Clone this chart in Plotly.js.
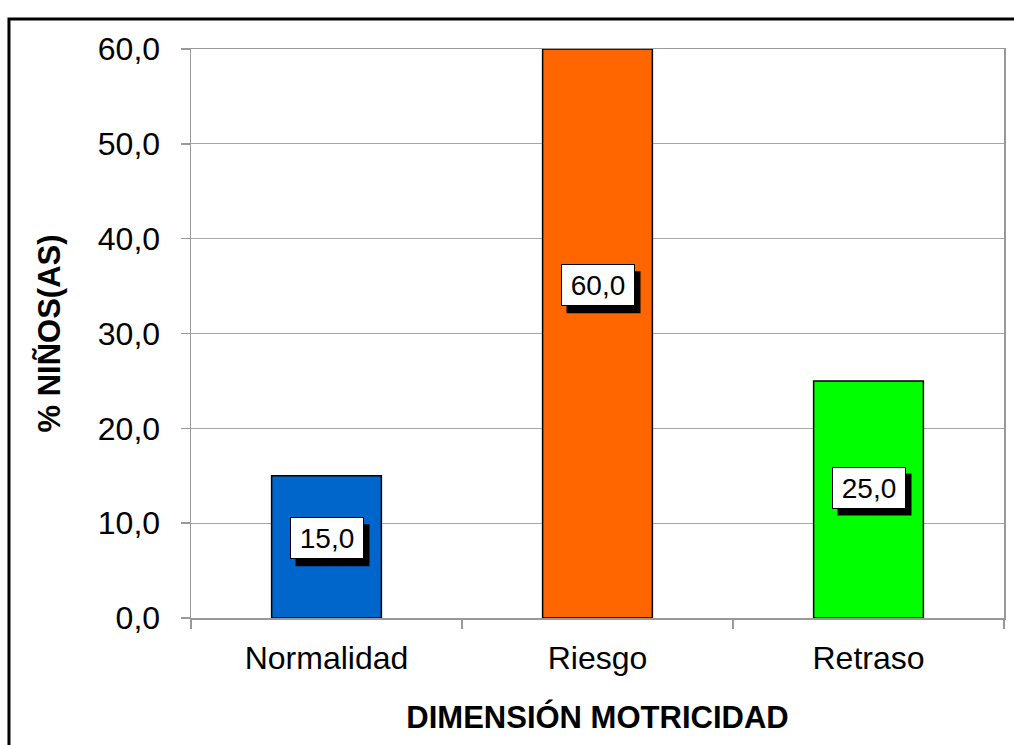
<!DOCTYPE html>
<html>
<head>
<meta charset="utf-8">
<script src="https://cdn.plot.ly/plotly-3.0.1.min.js"></script>
<style>
  html, body { margin: 0; padding: 0; background: #fff; }
  #chart { width: 1014px; height: 745px; }
</style>
</head>
<body>
<div id="chart"></div>
<script>
// Motor-development dimension: share of children in each category
const categories = ['Normalidad', 'Riesgo', 'Retraso'];
const percentages = [15.0, 60.0, 25.0];
const barColors = ['#0066CC', '#FF6600', '#00FF00'];
const yTickValues = [0, 10, 20, 30, 40, 50, 60];

const FONT = 'Liberation Sans, Arial, sans-serif';

const fmt = v => v.toFixed(1).replace('.', ',');

const trace = {
  type: 'bar',
  x: categories,
  y: percentages,
  width: 0.405,
  marker: { color: barColors, line: { color: '#000', width: 1.5 } },
  hoverinfo: 'skip'
};

// Value labels: white boxes with a solid black drop shadow
const labelFrac = [0.56, 0.585, 0.55];
const annotations = [];
const shadows = [];
percentages.forEach((v, i) => {
  const ly = v * labelFrac[i];
  annotations.push({
    x: categories[i], y: ly, xref: 'x', yref: 'y',
    text: fmt(v), showarrow: false,
    width: 64, height: 32, borderpad: 4, borderwidth: 1, bordercolor: '#000',
    bgcolor: '#fff',
    font: { family: FONT, size: 28, color: '#000' }
  });
  shadows.push({
    type: 'rect', xref: 'x', yref: 'y',
    xsizemode: 'pixel', ysizemode: 'pixel',
    xanchor: categories[i], yanchor: ly,
    x0: -31, x1: 43, y0: -28, y1: 14,
    fillcolor: '#000', line: { width: 0 }
  });
});

const layout = {
  width: 1014, height: 745,
  margin: { l: 191, r: 10, t: 49, b: 127, pad: 0 },
  paper_bgcolor: '#fff', plot_bgcolor: '#fff',
  font: { family: FONT, size: 32, color: '#000' },
  showlegend: false,
  separators: ',.',
  xaxis: {
    type: 'category',
    tickson: 'boundaries',
    ticks: 'outside', ticklen: 9, tickcolor: '#999', tickwidth: 1.5,
    ticklabelstandoff: 11,
    showline: true, linecolor: '#999', linewidth: 1.5, mirror: true,
    showgrid: false,
    tickfont: { family: FONT, size: 32, color: '#000' },
    title: { text: 'DIMENSIÓN MOTRICIDAD', standoff: 31,
             font: { family: FONT, size: 31, color: '#000', weight: 'bold' } }
  },
  yaxis: {
    range: [0, 60],
    tickvals: yTickValues,
    ticktext: yTickValues.map(fmt),
    ticks: 'outside', ticklen: 9, tickcolor: '#999', tickwidth: 1.5,
    ticklabelstandoff: 14,
    showline: true, linecolor: '#999', linewidth: 1.5, mirror: true,
    showgrid: true, gridcolor: '#a6a6a6', gridwidth: 1.2,
    zeroline: false,
    tickfont: { family: FONT, size: 32, color: '#000' },
    title: { text: '% NIÑOS(AS)', standoff: 28,
             font: { family: FONT, size: 31, color: '#000', weight: 'bold' } }
  },
  annotations: annotations,
  shapes: shadows.concat([{
    type: 'rect', xref: 'paper', yref: 'paper',
    x0: -0.2239, x1: 1.0148, y0: -0.2267, y1: 1.0527,
    line: { color: '#000', width: 3 }, fillcolor: 'rgba(0,0,0,0)'
  }])
};

Plotly.newPlot('chart', [trace], layout, { displayModeBar: false, staticPlot: true });
</script>
</body>
</html>
